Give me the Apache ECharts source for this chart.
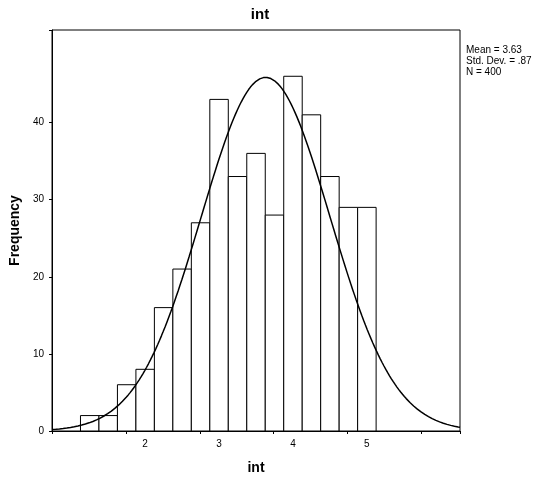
<!DOCTYPE html><html><head><meta charset="utf-8">
<script src="https://cdn.jsdelivr.net/npm/echarts@6/dist/echarts.min.js"></script>
<style>html,body{margin:0;padding:0;background:#fff}#c{width:548px;height:480px}</style></head><body><div id="c"></div>
<script>
const binCenters=[1.25,1.5,1.75,2.0,2.25,2.5,2.75,3.0,3.25,3.5,3.75,4.0,4.25,4.5,4.75,5.0];
const counts=[2,2,6,8,16,21,27,43,33,36,28,46,41,33,29,29];
const binWidth=0.25;
const mean=3.63, sd=0.87, n=400;
const yTicks=[0,10,20,30,40,50];
const curve=[];
for(let i=0;i<=220;i++){const x=0.74+i*(6.26-0.74)/220;curve.push([x,n*binWidth*Math.exp(-0.5*((x-mean)/sd)**2)/(sd*Math.sqrt(2*Math.PI))]);}
const chart=echarts.init(document.getElementById('c'));
const f='Arial, Liberation Sans, sans-serif';
chart.setOption({
 animation:false,backgroundColor:'#fff',
 title:{text:'int',left:255,top:2,textAlign:'center',textStyle:{fontFamily:f,fontSize:15,fontWeight:'bold',color:'#000'}},
 graphic:[{type:'text',left:466,top:45,style:{text:'Mean = 3.63\nStd. Dev. = .87\nN = 400',font:'10px Arial, Liberation Sans',fill:'#000',lineHeight:11}}],
 grid:{left:50,right:88,top:30,bottom:48,show:true,borderColor:'#000',borderWidth:1},
 xAxis:{type:'value',min:0.74,max:6.26,interval:1,name:'int',nameLocation:'middle',nameGap:30,
  nameTextStyle:{fontFamily:f,fontSize:14,fontWeight:'bold',color:'#000'},
  axisLine:{lineStyle:{color:'#000'}},axisTick:{length:3,lineStyle:{color:'#000'}},splitLine:{show:false},
  axisLabel:{fontFamily:f,fontSize:10,color:'#000',showMinLabel:false,showMaxLabel:false,
   customValues:[1,2,3,4,5,6]},
  customValues:[1,2,3,4,5,6]},
 yAxis:{type:'value',min:0,max:52,interval:10,name:'Frequency',nameLocation:'middle',nameGap:30,
  nameTextStyle:{fontFamily:f,fontSize:14,fontWeight:'bold',color:'#000'},
  axisLine:{lineStyle:{color:'#000'}},axisTick:{length:3,lineStyle:{color:'#000'}},splitLine:{show:false},
  axisLabel:{fontFamily:f,fontSize:10,color:'#000',showMaxLabel:false,customValues:yTicks},customValues:yTicks},
 series:[
  {type:'custom',data:binCenters.map((c,i)=>[c,counts[i]]),
   renderItem:(p,api)=>{const c=api.value(0),v=api.value(1);
    const a=api.coord([c-binWidth/2,v]),b=api.coord([c+binWidth/2,0]);
    return {type:'rect',shape:{x:a[0],y:a[1],width:b[0]-a[0],height:b[1]-a[1]},style:{fill:'#fff',stroke:'#000',lineWidth:1}};}},
  {type:'line',data:curve,showSymbol:false,smooth:false,lineStyle:{color:'#000',width:1.5}}
 ]});
</script></body></html>
